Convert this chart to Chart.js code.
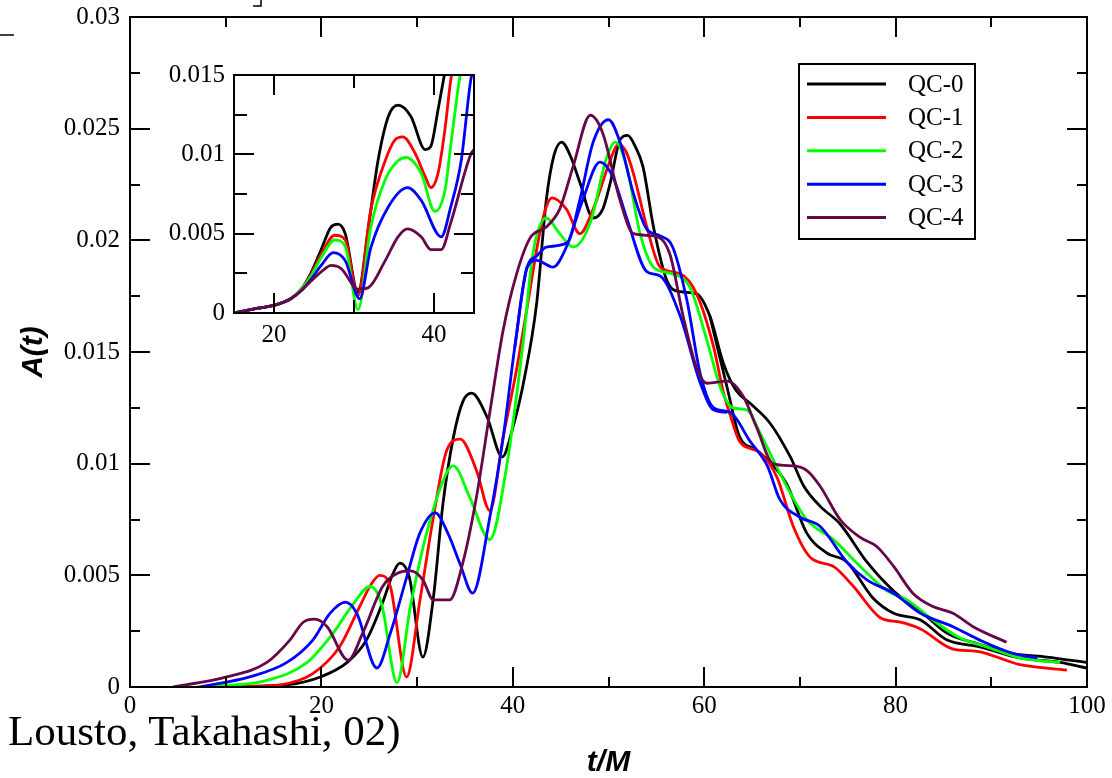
<!DOCTYPE html>
<html>
<head>
<meta charset="utf-8">
<title>A(t) QC waveforms</title>
<script src="https://cdn.jsdelivr.net/npm/chart.js@4.4.1/dist/chart.umd.min.js"></script>
<style>
  html, body { margin: 0; padding: 0; background: #fff; }
  #wrap { position: relative; width: 1112px; height: 778px; overflow: hidden; }
  #mainChart { position: absolute; left: 0; top: 0; }
  #insetChart { position: absolute; left: 150px; top: 60px; }
  .caption {
    position: absolute; left: 8px; top: 709px;
    font-family: "Liberation Serif", serif; font-size: 43px; line-height: 43px;
    color: #000; white-space: nowrap;
  }
</style>
</head>
<body>
<div id="wrap">
  <canvas id="mainChart" width="1112" height="778"></canvas>
  <canvas id="insetChart" width="345" height="290"></canvas>
  <div class="caption">Lousto, Takahashi, 02)</div>
</div>
<script>
// series names + colours
const seriesNames = ['QC-0', 'QC-1', 'QC-2', 'QC-3', 'QC-4'];
const seriesColors = ['#000000', '#ff0000', '#00ff00', '#0000ff', '#670748'];

// main panel: t/M and A(t)
const tQC0 = [8, 12, 16.4, 19.9, 22.7, 24.7, 26.5, 27.4, 28.2, 29.2, 30.6, 31.7, 32.7, 33.8, 34.8, 35.7, 37.3, 38.9, 40, 41.2, 42.5, 43.5, 44.3, 45.1, 46, 47, 48.4, 49.4, 50.2, 51.2, 52, 52.8, 53.6, 54.7, 56.1, 57.5, 59.2, 60.6, 62, 63.3, 64.8, 66.9, 69, 70.4, 72.1, 74.2, 77, 79.8, 82.6, 85.4, 88.1, 92.3, 95.8, 100];
const aQC0 = [0, 0.00003, 0.0001, 0.00045, 0.0011, 0.0021, 0.0039, 0.005, 0.00555, 0.0049, 0.00134, 0.004, 0.0082, 0.0112, 0.0128, 0.01316, 0.0121, 0.0103, 0.0116, 0.0138, 0.0172, 0.0218, 0.0238, 0.0244, 0.0238, 0.0226, 0.021, 0.0214, 0.0226, 0.0245, 0.0247, 0.0242, 0.0233, 0.0206, 0.0182, 0.0177, 0.0176, 0.0166, 0.0145, 0.0133, 0.0127, 0.0118, 0.0103, 0.009, 0.0081, 0.0073, 0.0056, 0.0043, 0.0034, 0.0024, 0.002, 0.0015, 0.00134, 0.0011];
const tQC0b = [60.6, 62.4, 63.7, 65.5, 68.6, 70.7, 72.8, 74.9, 77.6, 79.8, 82.6, 85.4, 88.8, 93, 97.2, 100];
const aQC0b = [0.0166, 0.0134, 0.0112, 0.0106, 0.0091, 0.0069, 0.006, 0.0056, 0.004, 0.0033, 0.003, 0.0021, 0.0018, 0.0013, 0.0011, 0.00085];

const tQC1 = [8, 12, 15.7, 19.1, 21.9, 24, 25.2, 26.1, 27.2, 28.9, 30.3, 31.7, 33.1, 34.5, 36.2, 37.6, 39, 40.3, 41.5, 42.8, 43.5, 44.1, 45.6, 47, 48.4, 50.2, 51, 51.8, 52.6, 54, 55.4, 57.5, 59.2, 61, 62, 62.7, 63.7, 65.8, 67.6, 69.3, 71.1, 73.5, 75.6, 78.4, 80.5, 82.6, 86, 88.5, 93, 97.9];
const aQC1 = [0, 0.00002, 0.0001, 0.0006, 0.0018, 0.0036, 0.0046, 0.005, 0.0045, 0.00045, 0.0039, 0.0076, 0.0106, 0.0111, 0.0097, 0.0079, 0.0112, 0.014, 0.017, 0.0203, 0.0215, 0.0219, 0.0214, 0.0203, 0.0214, 0.0236, 0.0243, 0.024, 0.023, 0.0206, 0.0188, 0.0185, 0.0176, 0.0152, 0.0132, 0.0122, 0.011, 0.0105, 0.0094, 0.0072, 0.0058, 0.0054, 0.0045, 0.0031, 0.0029, 0.0026, 0.0017, 0.0016, 0.001, 0.00076];

const tQC2 = [7, 14.3, 18.5, 21.2, 23.3, 25.1, 26.3, 27.9, 29.3, 31, 33.1, 33.8, 35.5, 37.6, 39.4, 41.1, 42.1, 43.5, 44.9, 46.3, 48.1, 49.8, 50.7, 51.9, 53.3, 54.7, 56.7, 58.5, 60.3, 61.7, 63, 64.5, 65.8, 68.6, 70.7, 73.5, 76.3, 79.1, 81.2, 83.9, 86.7, 89.5, 93, 97.2];
const aQC2 = [0, 0.0003, 0.0011, 0.0024, 0.0037, 0.0045, 0.0037, 0.0002, 0.0036, 0.0069, 0.0096, 0.0099, 0.0085, 0.0066, 0.01, 0.0155, 0.0194, 0.021, 0.0203, 0.0197, 0.0208, 0.0237, 0.0244, 0.0233, 0.0203, 0.0188, 0.0185, 0.0179, 0.0155, 0.0134, 0.0125, 0.0124, 0.0114, 0.009, 0.0075, 0.0066, 0.0054, 0.0043, 0.0039, 0.003, 0.0022, 0.0018, 0.0013, 0.0011];

const tQC3 = [7.3, 12.5, 16.4, 19.1, 20.9, 22.5, 23.7, 25.8, 27.2, 28.9, 30.3, 31.9, 33.2, 34.5, 35.8, 37.6, 39, 40.2, 41.5, 42.5, 43.5, 45.7, 47, 48.4, 50, 51.2, 52.6, 54, 55.4, 56.7, 58.2, 59.6, 61, 62.7, 64.8, 66.6, 67.9, 70, 72.1, 74.9, 77, 79.8, 82.6, 86, 88.8, 92.3, 94.8];
const aQC3 = [0, 0.00045, 0.0011, 0.0021, 0.0033, 0.0038, 0.0033, 0.00085, 0.0024, 0.0049, 0.0069, 0.0078, 0.0069, 0.0055, 0.0042, 0.0076, 0.0112, 0.0152, 0.0188, 0.0193, 0.0197, 0.0199, 0.0218, 0.0244, 0.0254, 0.0244, 0.0221, 0.0205, 0.0202, 0.0197, 0.0173, 0.014, 0.0125, 0.0123, 0.011, 0.0099, 0.0084, 0.0076, 0.0072, 0.0056, 0.0048, 0.0042, 0.0033, 0.0027, 0.0021, 0.0015, 0.0013];
const tQC3b = [40.2, 41.5, 42.5, 44.2, 45.6, 47.3, 49.1, 50.5, 51.9, 54, 55.4, 57.5, 59.6, 61, 62.4];
const aQC3b = [0.0152, 0.0188, 0.0191, 0.0188, 0.0197, 0.0218, 0.0235, 0.0228, 0.021, 0.0186, 0.0184, 0.0166, 0.0136, 0.0124, 0.0123];

const tQC4 = [4.5, 10.1, 14.3, 16.7, 18.1, 19.3, 20.6, 22.8, 24.3, 26.4, 28, 29.3, 30.6, 31.7, 33.4, 34.8, 36.2, 37.6, 39, 40.4, 41.8, 43.5, 44.9, 46.3, 48.1, 49.4, 51.2, 52.6, 54.7, 56.4, 57.8, 59.2, 60.3, 62.4, 64.1, 65.5, 67.2, 69.3, 70.7, 72.1, 74.2, 76.3, 78, 79.8, 81.8, 83.9, 86, 88.1, 91.6];
const aQC4 = [0, 0.00045, 0.0011, 0.0021, 0.0029, 0.00304, 0.0027, 0.0012, 0.0024, 0.0045, 0.0051, 0.0052, 0.0048, 0.0039, 0.0039, 0.0056, 0.0085, 0.0123, 0.016, 0.0185, 0.0201, 0.0206, 0.0214, 0.0233, 0.0256, 0.0248, 0.0218, 0.0203, 0.0202, 0.0194, 0.0166, 0.0143, 0.0136, 0.0137, 0.013, 0.0116, 0.01, 0.0099, 0.0097, 0.009, 0.0075, 0.0067, 0.0063, 0.0054, 0.0042, 0.0036, 0.0033, 0.0027, 0.002];

// inset panel (curves shifted so the first dips line up)
const tIn0 = [15, 18, 20.1, 22.1, 23.4, 24.6, 25.9, 27.1, 28, 28.9, 30.5, 31.8, 33, 34.3, 35.5, 37.1, 38.9, 39.6, 40.5, 41.4, 42];
const aIn0 = [0, 0.0003, 0.0005, 0.0009, 0.0015, 0.0025, 0.004, 0.0054, 0.0056, 0.005, 0.0013, 0.0054, 0.0096, 0.0124, 0.0131, 0.0124, 0.0103, 0.0105, 0.0128, 0.0153, 0.017];
const tIn1 = [15, 18, 20.1, 22.1, 23.4, 24.6, 25.9, 27.6, 28.9, 30.5, 32.1, 33.9, 35.1, 36.1, 37.6, 38.9, 39.6, 40.5, 41.4, 42.1, 43];
const aIn1 = [0, 0.0003, 0.0005, 0.0009, 0.0015, 0.0024, 0.0037, 0.0049, 0.0046, 0.0011, 0.0065, 0.0096, 0.0109, 0.0111, 0.0101, 0.0086, 0.0079, 0.0088, 0.0117, 0.0147, 0.017];
const tIn2 = [15, 18, 20.1, 22.1, 23.4, 24.6, 25.9, 27.6, 28.9, 30.5, 32.1, 33.9, 35.5, 36.5, 38.4, 40.1, 41.4, 42.1, 43.2, 44];
const aIn2 = [0, 0.0003, 0.0005, 0.0009, 0.0015, 0.0023, 0.0035, 0.0046, 0.0042, 0.0002, 0.0054, 0.0084, 0.0096, 0.0098, 0.0088, 0.0064, 0.0078, 0.0106, 0.0148, 0.017];
const tIn3 = [15, 18, 20.1, 22.1, 23.4, 24.6, 25.9, 27.4, 28.9, 30.7, 32.1, 34.3, 36.7, 38.4, 40.9, 42.1, 43.4, 44.6, 45];
const aIn3 = [0, 0.0003, 0.0005, 0.0009, 0.0014, 0.0021, 0.003, 0.0038, 0.0033, 0.0009, 0.0041, 0.0067, 0.0079, 0.0071, 0.0048, 0.0067, 0.0096, 0.0147, 0.0155];
const tIn4 = [15, 18, 20.1, 22.1, 23.4, 24.6, 26.4, 27.1, 28.4, 30.5, 31.8, 33.9, 35.5, 36.7, 38.4, 39.6, 40.9, 42.1, 44.6, 45];
const aIn4 = [0, 0.0003, 0.0005, 0.0009, 0.0014, 0.002, 0.0028, 0.003, 0.0028, 0.0015, 0.0016, 0.0033, 0.0048, 0.0053, 0.0048, 0.004, 0.004, 0.0057, 0.01, 0.0103];

// axis ticks
const mainXTicks = [0, 20, 40, 60, 80, 100];
const mainXMinor = [10, 30, 50, 70, 90];
const mainYTicks = [0, 0.005, 0.01, 0.015, 0.02, 0.025, 0.03];
const mainYMinor = [0.0025, 0.0075, 0.0125, 0.0175, 0.0225, 0.0275];
const insetXTicks = [20, 40];
const insetXMinor = [30];
const insetYTicks = [0, 0.005, 0.01, 0.015];
const insetYMinor = [0.0025, 0.0075, 0.0125];

const toPoints = (ts, as) => ts.map((t, i) => ({ x: t, y: as[i] }));

function curve(label, ts, as, colorIdx) {
  return {
    label: label,
    data: toPoints(ts, as),
    borderColor: seriesColors[colorIdx],
    borderWidth: 2.8,
    pointRadius: 0,
    fill: false,
    cubicInterpolationMode: 'monotone',
    order: 10 - colorIdx
  };
}

// chart area is set by layout padding only, not by label overhang
const noOverhang = s => {
  s.paddingTop = 0; s.paddingBottom = 0; s.paddingLeft = 0; s.paddingRight = 0;
};

// frame + inward ticks on all four sides
const frameTicks = {
  id: 'frameTicks',
  afterDatasetsDraw(chart, args, o) {
    const { ctx, chartArea: a } = chart;
    const x = chart.scales.x, y = chart.scales.y;
    ctx.save();
    ctx.strokeStyle = '#000';
    ctx.lineWidth = 2;
    ctx.beginPath();
    const tickX = (vals, len) => vals.forEach(v => {
      const px = Math.round(x.getPixelForValue(v));
      ctx.moveTo(px, a.bottom); ctx.lineTo(px, a.bottom - len);
      ctx.moveTo(px, a.top); ctx.lineTo(px, a.top + len);
    });
    const tickY = (vals, len) => vals.forEach(v => {
      const py = Math.round(y.getPixelForValue(v));
      ctx.moveTo(a.left, py); ctx.lineTo(a.left + len, py);
      ctx.moveTo(a.right, py); ctx.lineTo(a.right - len, py);
    });
    tickX(o.xMajor, o.majorLen);
    tickX(o.xMinor, o.minorLen);
    tickY(o.yMajor, o.majorLen);
    tickY(o.yMinor, o.minorLen);
    ctx.stroke();
    ctx.strokeRect(a.left, a.top, a.right - a.left, a.bottom - a.top);
    ctx.restore();
  }
};

// boxed legend, Grace style
const boxLegend = {
  id: 'boxLegend',
  afterDraw(chart, args, o) {
    const ctx = chart.ctx;
    ctx.save();
    ctx.fillStyle = '#fff';
    ctx.fillRect(o.left, o.top, o.width, o.height);
    ctx.strokeStyle = '#000';
    ctx.lineWidth = 2;
    ctx.strokeRect(o.left, o.top, o.width, o.height);
    ctx.font = '25px "Liberation Serif"';
    ctx.textBaseline = 'middle';
    seriesNames.forEach((name, i) => {
      const yy = o.firstRow + i * o.rowGap;
      ctx.strokeStyle = seriesColors[i];
      ctx.lineWidth = 3;
      ctx.beginPath();
      ctx.moveTo(o.lineX0, yy);
      ctx.lineTo(o.lineX1, yy);
      ctx.stroke();
      ctx.fillStyle = '#000';
      ctx.fillText(name, o.textX, yy + 1);
    });
    // leftover crop marks at the top edge of the slide
    ctx.strokeStyle = '#000';
    ctx.lineWidth = 1.5;
    ctx.beginPath();
    ctx.moveTo(0, 35); ctx.lineTo(14, 35);
    ctx.moveTo(253, 6); ctx.lineTo(261, 6); ctx.lineTo(261, 0);
    ctx.stroke();
    ctx.restore();
  }
};

const serif = { family: 'Liberation Serif', size: 25 };
const titleFont = { family: 'Liberation Sans', size: 30, style: 'italic', weight: 'bold', lineHeight: 1 };

Chart.defaults.color = '#000';
Chart.defaults.font.family = 'Liberation Serif';

new Chart(document.getElementById('mainChart'), {
  type: 'line',
  data: {
    datasets: [
      curve('QC-0', tQC0, aQC0, 0),
      curve('', tQC0b, aQC0b, 0),
      curve('QC-1', tQC1, aQC1, 1),
      curve('QC-2', tQC2, aQC2, 2),
      curve('QC-3', tQC3, aQC3, 3),
      curve('', tQC3b, aQC3b, 3),
      curve('QC-4', tQC4, aQC4, 4)
    ]
  },
  options: {
    responsive: false,
    animation: false,
    devicePixelRatio: 1,
    layout: { padding: { top: 17, right: 25, bottom: 0, left: 0 } },
    plugins: {
      legend: { display: false },
      tooltip: { enabled: false },
      frameTicks: { xMajor: mainXTicks, xMinor: mainXMinor, yMajor: mainYTicks, yMinor: mainYMinor, majorLen: 20, minorLen: 10 },
      boxLegend: { left: 799, top: 64, width: 176, height: 175, firstRow: 84, rowGap: 33.4, lineX0: 807, lineX1: 886, textX: 908 }
    },
    scales: {
      x: {
        type: 'linear', min: 0, max: 100,
        grid: { display: false, drawTicks: false },
        border: { display: false },
        afterBuildTicks: s => { s.ticks = mainXTicks.map(v => ({ value: v })); },
        afterFit: s => { s.height = 91; noOverhang(s); },
        ticks: { font: serif, color: '#000', padding: 4, maxRotation: 0, autoSkip: false, callback: v => String(v) },
        title: { display: true, text: 't/M', font: titleFont, color: '#000', padding: { top: 0, bottom: 0 } }
      },
      y: {
        type: 'linear', min: 0, max: 0.03,
        grid: { display: false, drawTicks: false },
        border: { display: false },
        afterBuildTicks: s => { s.ticks = mainYTicks.map(v => ({ value: v })); },
        afterFit: s => { s.width = 130; noOverhang(s); },
        ticks: { font: serif, color: '#000', padding: 10, autoSkip: false, callback: v => String(v) },
        title: { display: true, text: 'A(t)', font: titleFont, color: '#000', padding: { top: 19, bottom: 0 } }
      }
    }
  },
  plugins: [frameTicks, boxLegend]
});

new Chart(document.getElementById('insetChart'), {
  type: 'line',
  data: {
    datasets: [
      curve('QC-0', tIn0, aIn0, 0),
      curve('QC-1', tIn1, aIn1, 1),
      curve('QC-2', tIn2, aIn2, 2),
      curve('QC-3', tIn3, aIn3, 3),
      curve('QC-4', tIn4, aIn4, 4)
    ]
  },
  options: {
    responsive: false,
    animation: false,
    devicePixelRatio: 1,
    layout: { padding: { top: 15, right: 21, bottom: 0, left: 0 } },
    plugins: {
      legend: { display: false },
      tooltip: { enabled: false },
      frameTicks: { xMajor: insetXTicks, xMinor: insetXMinor, yMajor: insetYTicks, yMinor: insetYMinor, majorLen: 20, minorLen: 13 }
    },
    scales: {
      x: {
        type: 'linear', min: 15, max: 45,
        grid: { display: false, drawTicks: false },
        border: { display: false },
        afterBuildTicks: s => { s.ticks = insetXTicks.map(v => ({ value: v })); },
        afterFit: s => { s.height = 37; noOverhang(s); },
        ticks: { font: serif, color: '#000', padding: 7, maxRotation: 0, autoSkip: false, callback: v => String(v) }
      },
      y: {
        type: 'linear', min: 0, max: 0.015,
        grid: { display: false, drawTicks: false },
        border: { display: false },
        afterBuildTicks: s => { s.ticks = insetYTicks.map(v => ({ value: v })); },
        afterFit: s => { s.width = 84; noOverhang(s); },
        ticks: { font: serif, color: '#000', padding: 9, autoSkip: false, callback: v => String(v) }
      }
    }
  },
  plugins: [frameTicks]
});
</script>
</body>
</html>
